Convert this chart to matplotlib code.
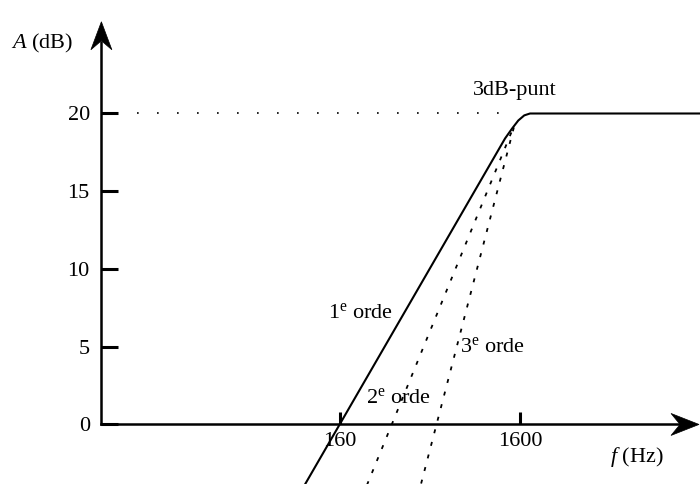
import matplotlib
matplotlib.use('Agg')
import matplotlib.pyplot as plt
import matplotlib.transforms as mtransforms
from matplotlib.patches import Polygon
from matplotlib.ticker import NullLocator

plt.rcParams['font.family'] = 'Liberation Serif'
plt.rcParams['mathtext.fontset'] = 'custom'
plt.rcParams['mathtext.rm'] = 'Liberation Serif'
plt.rcParams['mathtext.it'] = 'Liberation Serif:italic'

# amplitude characteristics (f in Hz, A in dB)
f_1e = [103, 1323, 1450, 1566, 1691, 1820, 16000]
A_1e = [-3.8, 18.4, 19.05, 19.55, 19.88, 20, 20]
f_2e = [226, 1495]
A_2e = [-3.9, 19.3]
f_3e = [452, 1495]
A_3e = [-3.8, 19.3]
f_ref = [12, 1420]
A_ref = [20, 20]

y_ticks = [0, 5, 10, 15, 20]
x_ticks = [160, 1600]
x_labels = ['160', '1600']

f_axis = 7.57     # where the A-axis stands
f_end = 15800     # tip of the f-axis
A_end = 25.9      # tip of the A-axis

fig = plt.figure(figsize=(7, 4.84), dpi=100)
ax = fig.add_axes([0, 0, 1, 1])
ax.set_xscale('log')
ax.set_xlim(2.07, 16000)
ax.set_ylim(-3.83, 27.3)

ax.plot(f_1e, A_1e, color='k', lw=1.5)
ax.plot(f_2e, A_2e, color='k', lw=1.3, ls=(0, (2.2, 5)))
ax.plot(f_3e, A_3e, color='k', lw=1.3, ls=(0, (2.2, 5)))
ax.plot(f_ref, A_ref, color='k', lw=1.2, ls=(0, (1, 11)))

# axes as arrows
for s in ['top', 'right']:
    ax.spines[s].set_visible(False)
ax.spines['left'].set_position(('data', f_axis))
ax.spines['bottom'].set_position(('data', 0))
ax.spines['left'].set_bounds(0, 24.6)
ax.spines['bottom'].set_bounds(f_axis, 12360)
for s in ['left', 'bottom']:
    ax.spines[s].set_linewidth(1.8)

ax.set_yticks(y_ticks, labels=[str(v) for v in y_ticks])
ax.set_xticks(x_ticks, labels=x_labels)
ax.xaxis.set_minor_locator(NullLocator())
ax.tick_params(axis='y', direction='in', length=12.2, width=2.2, pad=8.3, labelsize=16)
ax.tick_params(axis='x', direction='in', length=8.6, width=2.2, pad=5.5, labelsize=16)

def arrow_head(x, y, verts):
    trans = fig.dpi_scale_trans + mtransforms.ScaledTranslation(x, y, ax.transData)
    ax.add_patch(Polygon(verts, closed=True, facecolor='k', edgecolor='k',
                         lw=0.5, transform=trans, clip_on=False))

arrow_head(f_axis, A_end, [(0, 0), (-0.105, -0.28), (0, -0.19), (0.105, -0.28)])
arrow_head(f_end, 0, [(0, 0), (-0.28, 0.11), (-0.19, 0), (-0.28, -0.11)])

fs = 16
ax.text(2.39, 24.21, '$A$ (dB)', fontsize=fs)
ax.text(5060, -2.39, '$f$ (Hz)', fontsize=fs)
ax.text(877, 21.19, '3dB-punt', fontsize=fs)
ax.text(137, 6.85, r'$\mathrm{1}^{\mathrm{e}}$ orde', fontsize=fs)
ax.text(223, 1.40, r'$\mathrm{2}^{\mathrm{e}}$ orde', fontsize=fs)
ax.text(743, 4.68, r'$\mathrm{3}^{\mathrm{e}}$ orde', fontsize=fs)

fig.savefig('out.png', dpi=100)
